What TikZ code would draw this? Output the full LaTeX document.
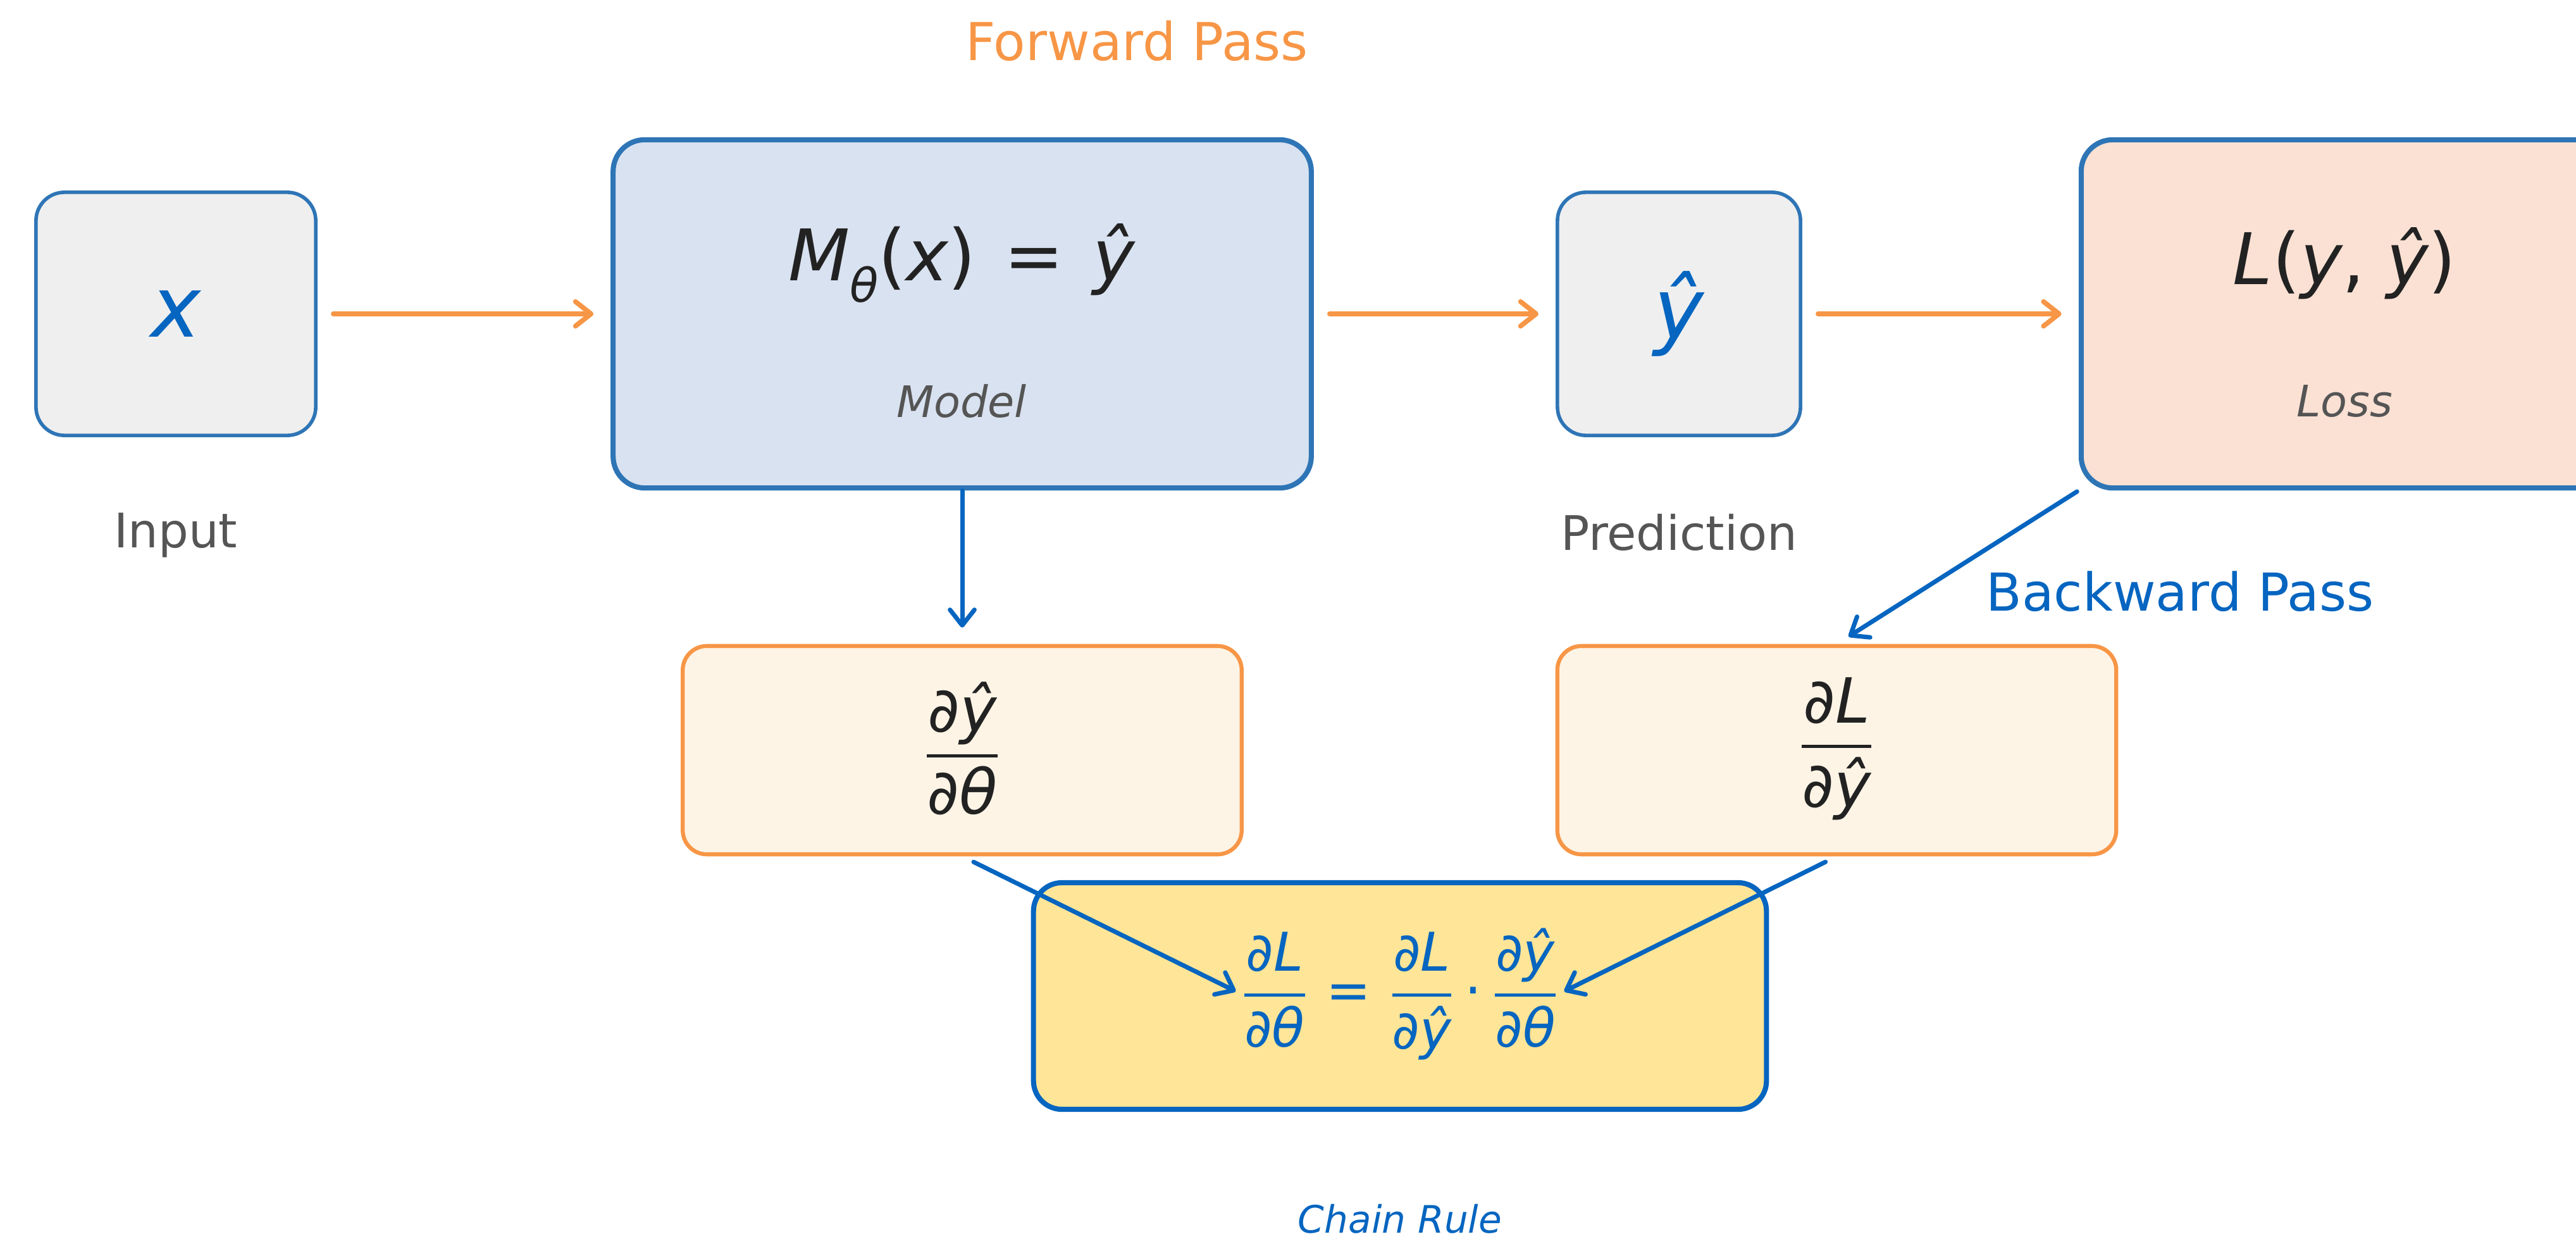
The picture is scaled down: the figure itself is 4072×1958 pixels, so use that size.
\documentclass[tikz,border=0pt]{standalone}
\usepackage{fontspec}
\setmainfont{DejaVu Sans}
\usetikzlibrary{arrows.meta}
\definecolor{forange}{HTML}{F79646}
\definecolor{bblue}{HTML}{0565C0}
\definecolor{bord}{HTML}{2E75B6}
\definecolor{gfill}{HTML}{EFEFEF}
\definecolor{mfill}{HTML}{D9E2F0}
\definecolor{lfill}{HTML}{FAE1D4}
\definecolor{cfill}{HTML}{FEF4E6}
\definecolor{yfill}{HTML}{FEE597}
\definecolor{greytxt}{HTML}{555555}
\definecolor{darktxt}{HTML}{222222}
\newcommand\fr[2]{$\displaystyle{\hbox{#1}\above 1.4pt\hbox{#2}}$}
\begin{document}
\begin{tikzpicture}[x=0.01cm,y=-0.01cm,
  box/.style={draw, rounded corners=0.45cm, inner sep=0pt},
  smallbox/.style={box, draw=bord, fill=gfill, line width=1.6pt, minimum height=3.84cm},
  bigbox/.style={box, draw=bord, line width=2.3pt, minimum height=5.5cm, rounded corners=0.5cm},
  gradbox/.style={box, draw=forange, fill=cfill, line width=1.8pt, minimum width=8.83cm, minimum height=3.29cm, rounded corners=0.38cm},
  txt/.style={inner sep=0pt, anchor=center},
  farrow/.style={draw=forange, line width=2.2pt, line cap=round, -{Straight Barb[length=7pt,width=11pt,round]}, shorten <=0.25cm, shorten >=0.27cm},
  barrow/.style={draw=bblue, line width=2pt, line cap=round, -{Straight Barb[length=7pt,width=11pt,round]}}
]
\useasboundingbox (0,0) rectangle (4072,1958);
% boxes
\node[smallbox, minimum width=4.42cm] (xbox) at (278,496) {};
\node[bigbox, fill=mfill, minimum width=11.03cm] (model) at (1521,496) {};
\node[smallbox, minimum width=3.84cm] (yhbox) at (2654,496) {};
\node[bigbox, fill=lfill, minimum width=8.32cm] (loss) at (3706,496) {};
\node[gradbox] (dy) at (1521,1185.5) {};
\node[gradbox] (dL) at (2903.5,1185.5) {};
\node[box, draw=bblue, fill=yfill, line width=2.3pt, minimum width=11.58cm, minimum height=3.58cm, rounded corners=0.45cm] (chain) at (2213,1574) {};
% texts
\node[txt, text=bblue, font=\fontsize{38}{44}\selectfont\itshape] (xsym) at (278,496) {x};
\node[txt, text=bblue, font=\fontsize{38}{44}\selectfont\itshape] (yhsym) at (2654,496) {ŷ};
\node[txt, text=darktxt, font=\fontsize{32}{38}\selectfont] (mform) at (1520,416) {\itshape M\raisebox{-0.3em}{\fontsize{21}{21}\selectfont θ}\upshape(\itshape x\upshape)\hspace{0.4em}=\hspace{0.4em}\itshape ŷ};
\node[txt, text=greytxt, font=\fontsize{19.5}{23}\selectfont\itshape] (mlab) at (1520,634) {Model};
\node[txt, text=darktxt, font=\fontsize{32}{38}\selectfont] (lform) at (3706,416) {\itshape L\upshape(\itshape y\upshape,\hspace{0.3em}\itshape ŷ\upshape)};
\node[txt, text=greytxt, font=\fontsize{19.5}{23}\selectfont\itshape] (llab) at (3706,634) {Loss};
\node[txt, text=greytxt, font=\fontsize{21.4}{26}\selectfont] (inlab) at (278,846) {Input};
\node[txt, text=greytxt, font=\fontsize{21.4}{26}\selectfont] (prlab) at (2654,841) {Prediction};
\node[txt, text=forange, font=\fontsize{23.5}{28}\selectfont] (fwd) at (1797,65) {Forward Pass};
\node[txt, text=bblue, font=\fontsize{23.5}{28}\selectfont] (bwd) at (3446,935) {Backward Pass};
\node[txt, text=darktxt, font=\fontsize{28}{34}\selectfont\itshape] (dyf) at (1521,1183) {\fr{∂ŷ}{∂θ}};
\node[txt, text=darktxt, font=\fontsize{28}{34}\selectfont\itshape] (dLf) at (2903,1183) {\fr{∂L}{∂ŷ}};
\node[txt, text=bblue, font=\fontsize{24}{29}\selectfont\itshape] (chainf) at (2213,1571) {\fr{∂L}{∂θ}\hspace{0.35em}{\upshape =}\hspace{0.35em}\fr{∂L}{∂ŷ}\hspace{0.2em}{\upshape ⋅}\hspace{0.2em}\fr{∂ŷ}{∂θ}};
\node[txt, text=bblue, font=\fontsize{17}{20}\selectfont\itshape] (crlab) at (2213,1926) {Chain Rule};
% forward arrows
\draw[farrow] (xbox.east) -- (model.west);
\draw[farrow] (model.east) -- (yhbox.west);
\draw[farrow] (yhbox.east) -- (loss.west);
% backward arrows
\draw[barrow, shorten >=0.26cm] (model.south) -- (dy.north);
\draw[barrow, shorten <=0.03cm, shorten >=0.22cm] (loss.south west) -- (dL.north);
\draw[barrow, shorten <=0.2cm, shorten >=0.1cm] (dy.south) -- (chainf.west);
\draw[barrow, shorten <=0.2cm, shorten >=0.1cm] (dL.south) -- (chainf.east);
\end{tikzpicture}
\end{document}
